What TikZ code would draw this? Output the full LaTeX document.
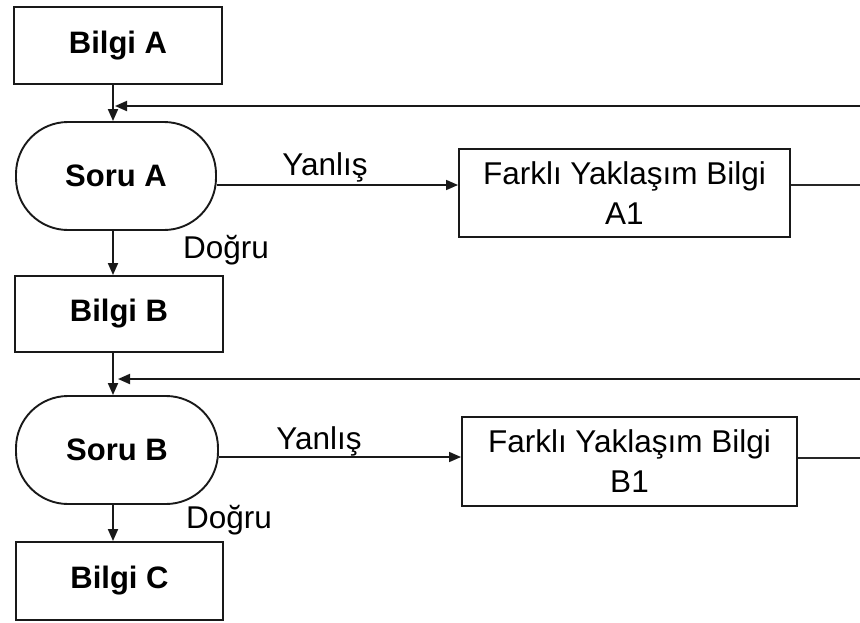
\documentclass[tikz,border=0pt]{standalone}
\usepackage{fontspec}
\setmainfont{Liberation Sans}
\usetikzlibrary{arrows.meta}
\begin{document}
\begin{tikzpicture}[x=1pt,y=-1pt,
  bbox/.style={draw=black!90, line width=1.9pt, inner sep=0pt, font=\fontsize{31}{36}\selectfont\bfseries},
  qbox/.style={bbox, rounded corners=52pt},
  fbox/.style={draw=black!90, line width=1.9pt, inner sep=0pt, align=center, font=\fontsize{31.5}{40}\selectfont},
  lbl/.style={inner sep=0pt, anchor=base, font=\fontsize{31.5}{36}\selectfont},
  arr/.style={draw=black!90, line width=1.9pt, -{Triangle[length=12pt,width=10pt]}},
  ln/.style={draw=black!85, line width=1.6pt}]
\useasboundingbox (0,0) rectangle (860,622);
\fill[white] (0,0) rectangle (860,622);

\node[bbox, minimum width=208pt, minimum height=77pt] (ba) at (118,45.5) {Bilgi A};
\node[qbox, minimum width=200pt, minimum height=108pt] (sa) at (116,176) {Soru A};
\node[bbox, minimum width=208pt, minimum height=76pt] (bb) at (119,314) {Bilgi B};
\node[qbox, minimum width=202pt, minimum height=108pt] (sb) at (117,450) {Soru B};
\node[bbox, minimum width=207pt, minimum height=78pt] (bc) at (119.5,581) {Bilgi C};
\node[fbox, minimum width=331pt, minimum height=88pt] (fa) at (624.5,193) {Farklı Yaklaşım Bilgi\\A1};
\node[fbox, minimum width=335pt, minimum height=89pt] (fb) at (629.5,461.5) {Farklı Yaklaşım Bilgi\\B1};

\node[lbl] (ya) at (325,175) {Yanlış};
\node[lbl] (da) at (226,258) {Doğru};
\node[lbl] (yb) at (319,449) {Yanlış};
\node[lbl] (db) at (229,528) {Doğru};

% vertical flow
\coordinate (xa) at (113,0);
\draw[arr] (ba.south -| xa) -- (sa.north -| xa);
\draw[arr] (sa.south -| xa) -- (bb.north -| xa);
\draw[arr] (bb.south -| xa) -- (sb.north -| xa);
\draw[arr] (sb.south -| xa) -- (bc.north -| xa);

% wrong answer branches
\coordinate (ha) at (0,185);
\coordinate (hb) at (0,457);
\draw[arr, line width=1.6pt] (sa.east |- ha) -- (fa.west |- ha);
\draw[arr, line width=1.6pt] (sb.east |- hb) -- (fb.west |- hb);
\coordinate (ea) at (860,185);
\coordinate (eb) at (860,458);
\draw[ln] (fa.east |- ea) -- (ea);
\draw[ln] (fb.east |- eb) -- (eb);

% return lines
\coordinate (ra) at (860,106);
\coordinate (ta) at (115,106);
\coordinate (rb) at (860,379);
\coordinate (tb) at (118,379);
\draw[arr] (ra) -- (ta);
\draw[arr] (rb) -- (tb);
\end{tikzpicture}
\end{document}
